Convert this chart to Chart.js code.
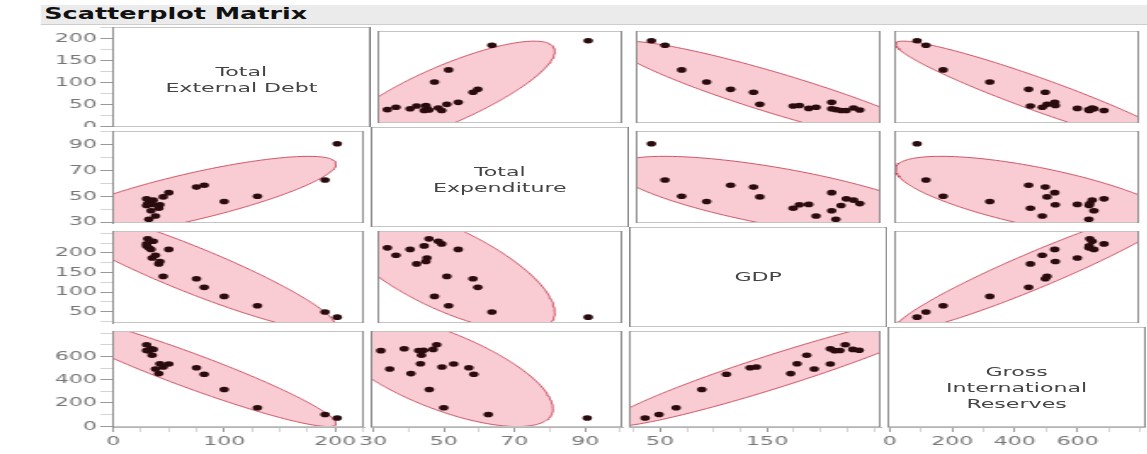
<!DOCTYPE html>
<html>
<head>
<meta charset="utf-8">
<script src="https://cdn.jsdelivr.net/npm/chart.js@4.4.1/dist/chart.umd.min.js"></script>
<style>
  html, body { margin: 0; padding: 0; background: #fff; overflow: hidden; }
  #page { position: absolute; left: 0; top: 0; width: 675px; height: 454px;
          transform: scaleX(1.7); transform-origin: 0 0;
          font-family: "DejaVu Sans", sans-serif; }
  .header { position: absolute; left: 24px; top: 5px; width: 651px; height: 19px;
            background: #ebebeb; border-bottom: 1px solid #cdcdcd; }
  .header span { position: absolute; left: 2px; top: 0px; font-weight: bold; font-size: 15px; color: #111; }
  .cell { position: absolute; display: block; }
  .diag { position: absolute; display: flex; align-items: center; justify-content: center;
          text-align: center; font-size: 13px; line-height: 16px; color: #444; white-space: pre; }
</style>
</head>
<body>
<div id="page">
  <div class="header"><span>Scatterplot Matrix</span></div>
</div>
<script>
// variables (same order for rows and columns)
const varNames = ['Total\nExternal Debt', 'Total\nExpenditure', 'GDP', 'Gross\nInternational\nReserves'];
const totalExternalDebt = [202, 191, 130, 100, 82, 75, 45, 50, 41, 42, 35, 38, 32, 34, 30, 30, 36, 31];
const totalExpenditure  = [90.6, 62.6, 50, 45.9, 58.5, 57.1, 49.5, 52.8, 40.7, 43.4, 43.7, 34.7, 32.2, 38.8, 42.9, 48, 47, 44.3];
const gdp               = [36, 49, 65, 89, 112, 134, 140, 209, 172, 178, 187, 194, 213, 209, 218, 223, 230, 236];
const grossReserves     = [70, 100, 158, 315, 446, 502, 508, 534, 452, 536, 610, 492, 649, 666, 650, 700, 660, 652];
const columns = [totalExternalDebt, totalExpenditure, gdp, grossReserves];

// axis ranges and ticks
const axisRanges = [[-1, 226], [29.3, 100.5], [21, 256], [-7, 818]];
const tickSteps = [25, 10, 25, 100];
const yTickLabels = [[0, 50, 100, 150, 200], [30, 50, 70, 90], [50, 100, 150, 200], [0, 200, 400, 600]];
const xTickLabels = [[0, 100, 200], [30, 50, 70, 90], [50, 150], [0, 200, 400, 600]];

// layout (unscaled px, page is stretched 1.7x horizontally)
const L = 66, CW = 152, T = 27, RH = 100, AXH = 26, PADX = 8;
const labelShift = [3, 3, 0, 11];
const FONT = 'DejaVu Sans';

function hasLabel(list, v) {
    return list.some(t => Math.abs(t - v) < 1e-6);
}

// 95% bivariate normal density ellipse from the sample mean / covariance
function densityEllipse(xs, ys) {
    const n = xs.length;
    const mx = xs.reduce((a, b) => a + b, 0) / n;
    const my = ys.reduce((a, b) => a + b, 0) / n;
    let sxx = 0, syy = 0, sxy = 0;
    for (let i = 0; i < n; i++) {
        const dx = xs[i] - mx, dy = ys[i] - my;
        sxx += dx * dx; syy += dy * dy; sxy += dx * dy;
    }
    sxx /= n - 1; syy /= n - 1; sxy /= n - 1;
    const a = Math.sqrt(sxx), b = sxy / a, c = Math.sqrt(Math.max(syy - b * b, 0));
    const k = Math.sqrt(5.991);
    const pts = [];
    for (let i = 0; i <= 160; i++) {
        const t = 2 * Math.PI * i / 160;
        const u = Math.cos(t), v = Math.sin(t);
        pts.push({ x: mx + k * a * u, y: my + k * (b * u + c * v) });
    }
    return pts;
}

const cellFrame = {
    id: 'cellFrame',
    afterDatasetsDraw(chart) {
        const { ctx, chartArea: a } = chart;
        ctx.save();
        ctx.lineWidth = 1;
        ctx.strokeStyle = '#c4c4c4';
        ctx.beginPath();
        ctx.moveTo(a.left, a.top + 0.5); ctx.lineTo(a.right, a.top + 0.5);
        ctx.moveTo(a.left, a.bottom - 0.5); ctx.lineTo(a.right, a.bottom - 0.5);
        ctx.stroke();
        ctx.strokeStyle = '#8c8c8c';
        ctx.beginPath();
        ctx.moveTo(a.left + 0.5, a.top); ctx.lineTo(a.left + 0.5, a.bottom);
        ctx.moveTo(a.right - 0.5, a.top); ctx.lineTo(a.right - 0.5, a.bottom);
        ctx.stroke();
        ctx.restore();
    }
};

function axisOptions(idx, labels, show, isX) {
    return {
        type: 'linear',
        display: show,
        min: axisRanges[idx][0],
        max: axisRanges[idx][1],
        grid: {
            drawOnChartArea: false,
            tickLength: isX ? 5 : 7,
            tickColor: ctx => hasLabel(labels, ctx.tick.value) ? '#999' : '#d4d4d4'
        },
        border: { display: true, color: isX ? '#b5b5b5' : '#8c8c8c' },
        ticks: {
            stepSize: tickSteps[idx],
            includeBounds: false,
            autoSkip: false,
            maxRotation: 0,
            padding: 2,
            color: '#777',
            font: { family: FONT, size: 13 },
            callback: v => hasLabel(labels, v) ? String(v) : ''
        },
        afterFit: s => {
            if (!show) { s.width = 0; s.height = 0; }
            else if (isX) s.height = AXH;
            else s.width = L;
            s.paddingLeft = 0; s.paddingRight = 0; s.paddingTop = 0; s.paddingBottom = 0;
        }
    };
}

const page = document.getElementById('page');

for (let r = 0; r < 4; r++) {
    for (let c = 0; c < 4; c++) {
        // bottom-row cells get a little room on the left for their first tick label
        const padLeft = (r === 3 && c > 0) ? PADX : 0;
        const left = (c === 0 ? 0 : L + c * CW) - padLeft;
        const width = (c === 0 ? L + CW : CW) + padLeft;
        const top = T + r * RH;
        const height = r === 3 ? RH + AXH : RH;

        const canvas = document.createElement('canvas');
        canvas.className = 'cell';
        canvas.width = width;
        canvas.height = height;
        canvas.style.cssText = `left:${left}px;top:${top}px;width:${width}px;height:${height}px;`;
        page.appendChild(canvas);

        let datasets = [];
        if (r !== c) {
            const xs = columns[c], ys = columns[r];
            datasets = [
                {
                    data: xs.map((x, i) => ({ x: x, y: ys[i] })),
                    pointRadius: 2.8,
                    pointBackgroundColor: '#2a0b0e',
                    pointBorderWidth: 0,
                    clip: 4
                },
                {
                    type: 'line',
                    data: densityEllipse(xs, ys),
                    borderColor: 'rgba(196, 60, 80, 0.85)',
                    borderWidth: 1,
                    backgroundColor: 'rgba(248, 198, 207, 0.9)',
                    fill: 'shape',
                    pointRadius: 0,
                    tension: 0,
                    clip: 0
                }
            ];
        }

        new Chart(canvas, {
            type: 'scatter',
            data: { datasets: datasets },
            options: {
                animation: false,
                responsive: false,
                devicePixelRatio: 1,
                events: [],
                layout: { padding: { left: padLeft, right: 0, top: 0, bottom: 0 } },
                plugins: { legend: { display: false }, tooltip: { enabled: false } },
                scales: {
                    x: axisOptions(c, xTickLabels[c], r === 3, true),
                    y: axisOptions(r, yTickLabels[r], c === 0, false)
                }
            },
            plugins: [cellFrame]
        });

        if (r === c) {
            const lab = document.createElement('div');
            lab.className = 'diag';
            lab.style.cssText = `left:${L + c * CW}px;top:${top + labelShift[r]}px;width:${CW}px;height:${RH}px;`;
            lab.textContent = varNames[r];
            page.appendChild(lab);
        }
    }
}
</script>
</body>
</html>
